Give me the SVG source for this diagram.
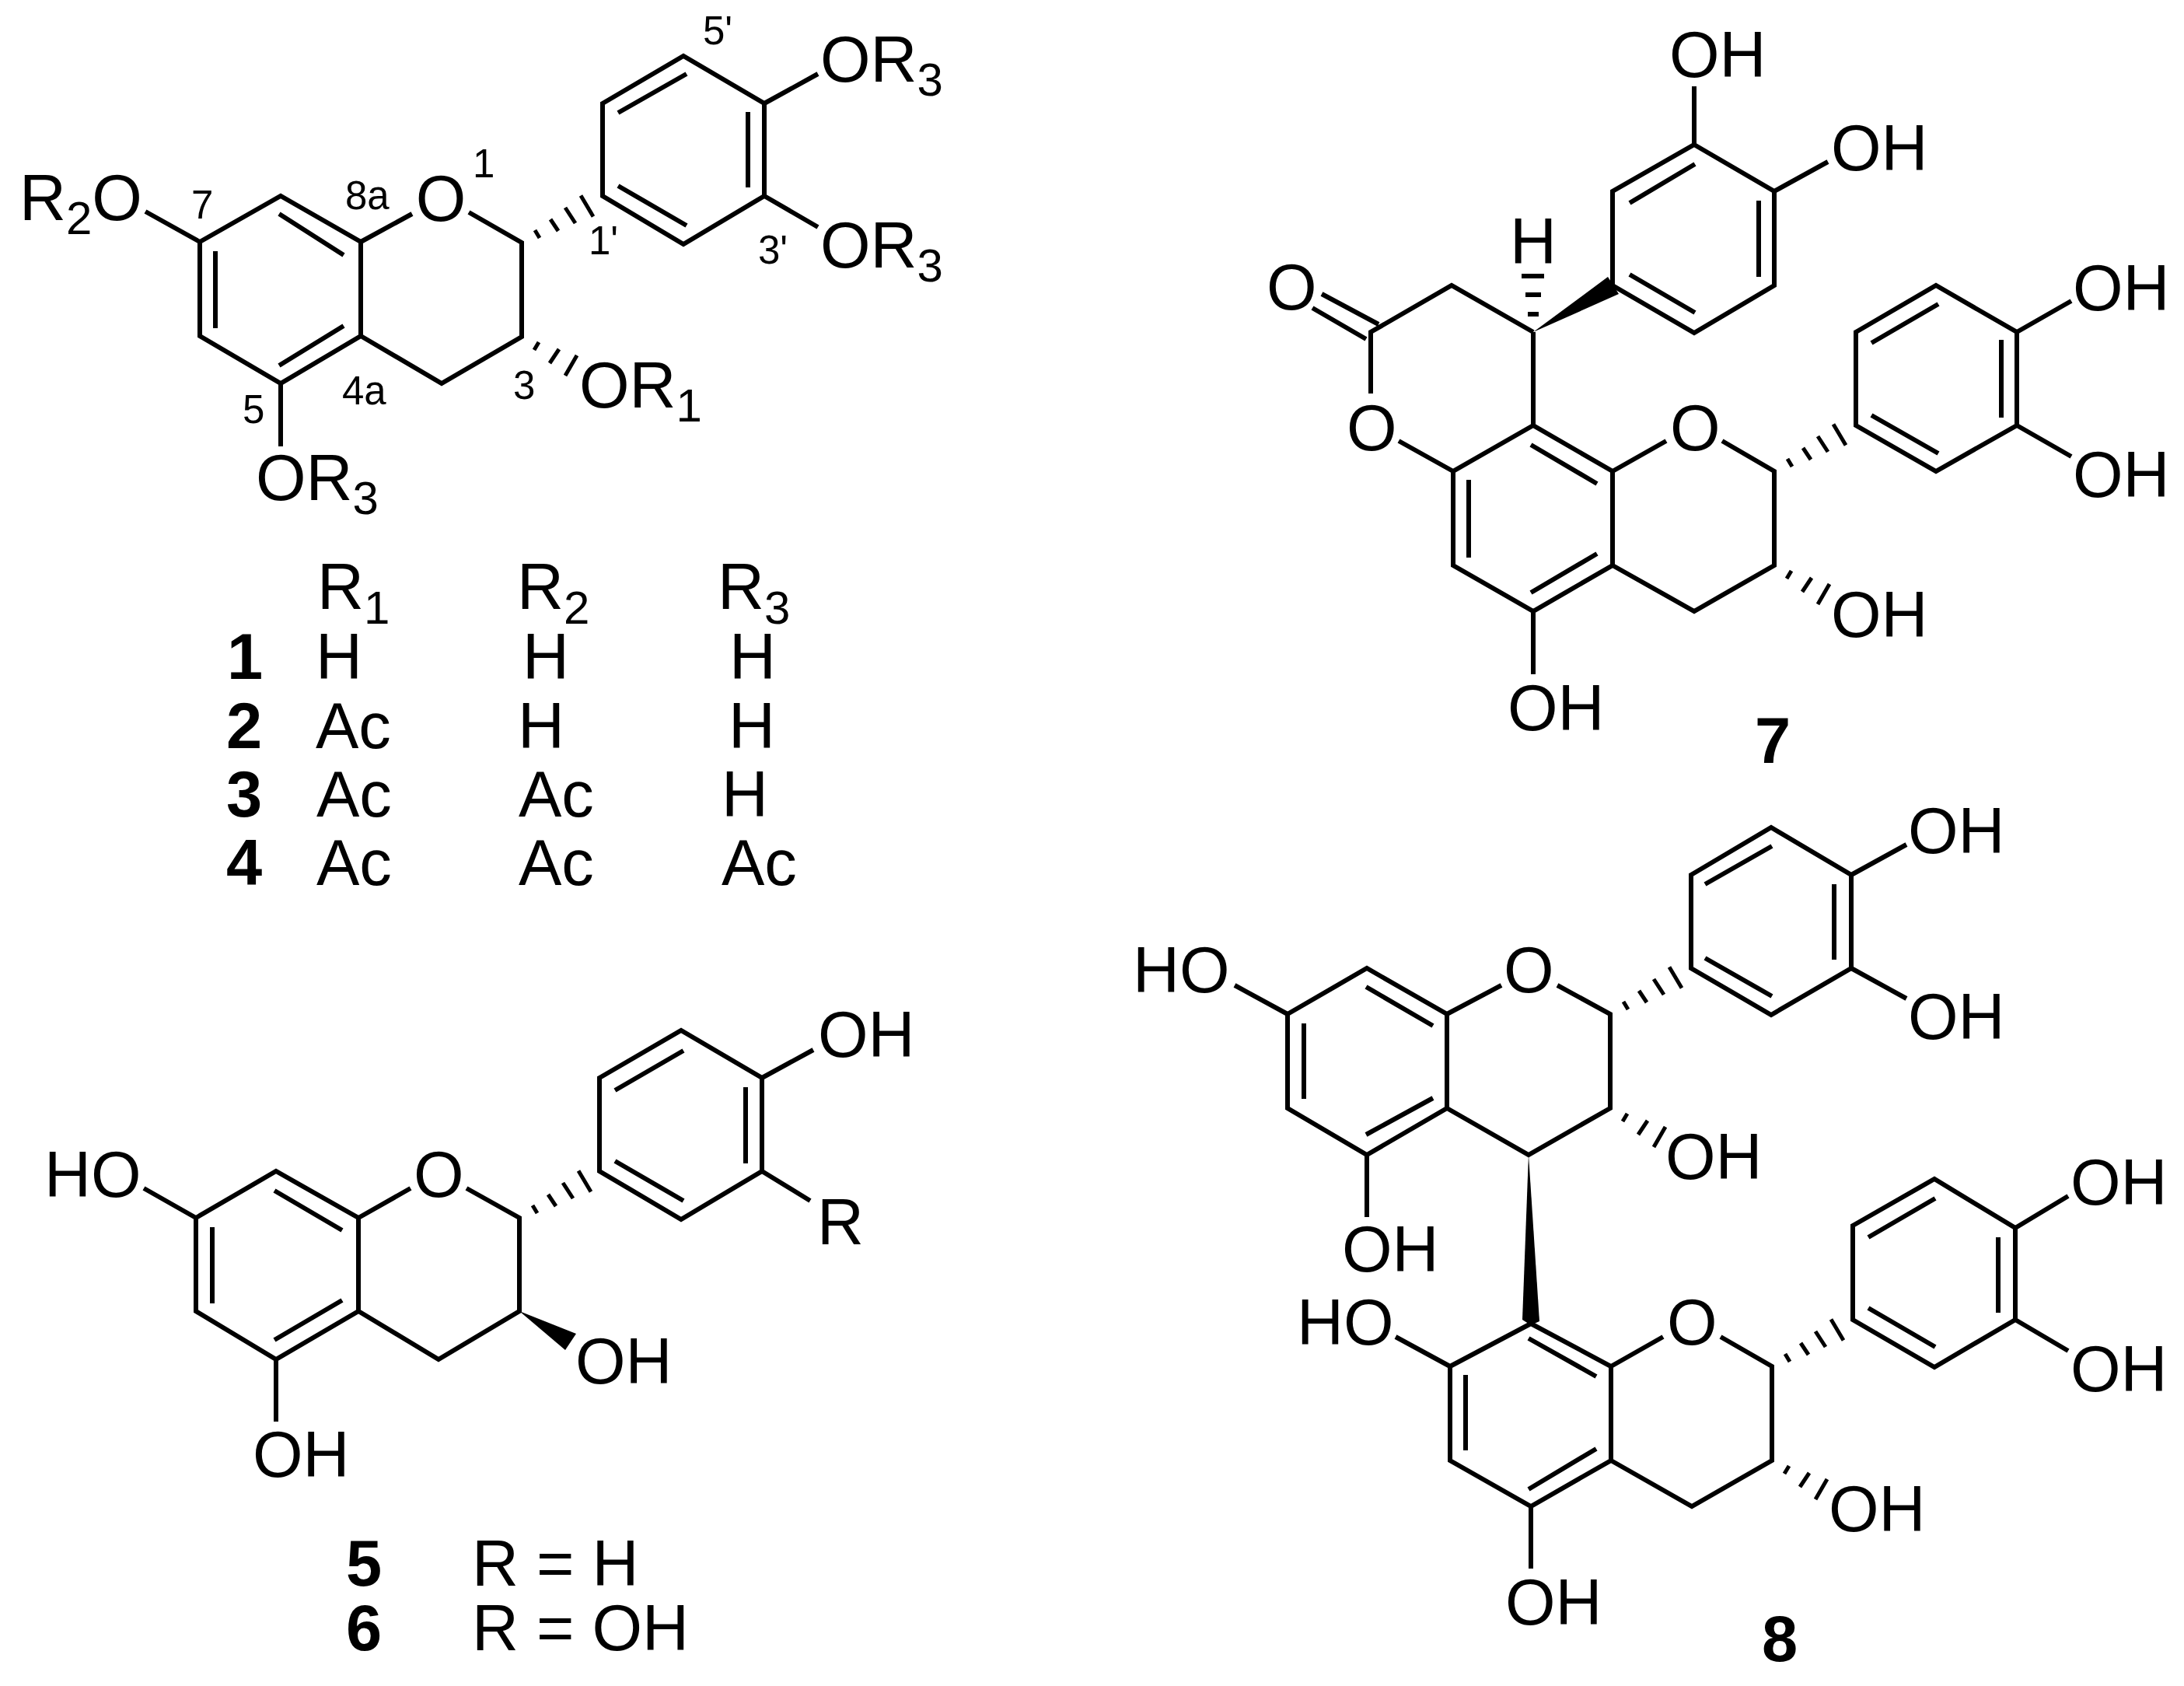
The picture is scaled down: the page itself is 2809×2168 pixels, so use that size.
<svg xmlns="http://www.w3.org/2000/svg" width="2809" height="2168" viewBox="0 0 2809 2168">
<style>
text{font-family:"Liberation Sans",Arial,sans-serif;fill:#000}
.t{font-size:83px}
.s{font-size:60px}
.l{font-size:51px}
.b{font-size:83px;font-weight:bold}
.k{fill:none;stroke:#000;stroke-width:6;stroke-linejoin:miter;stroke-miterlimit:4}
.h{fill:none;stroke:#000;stroke-width:5}
</style>
<defs>
<path id="hashA" class="h" d="M17 -16L23 -6M37 -30L47 -15M56 -45L69 -25M76 -60.500L92 -33.500"/>
<path id="hashB" class="h" d="M16 17L22 7M36 34L48 16M56 50L71 24"/>
</defs>
<rect width="2809" height="2168" fill="#fff"/>

<g id="compound-1-4">
<path class="k" d="M257 311L361 252L464 311V432L361 493L257 432ZM464 311L530 275M603 273L671 312V433L568 493L464 432M775 133L879 72L983 133V252L879 314L775 252ZM257 311L187 272M361 493V574M983 133L1052 95M983 252L1052 292M359 275L442 328M277 323V422M359 470L442 419M795 145L883 95M962 144V241M795 239L883 290"/>
<use href="#hashA" x="671" y="312"/>
<use href="#hashB" x="671" y="433"/>
<text class="t" x="25" y="283">R<tspan class="s" dy="18">2</tspan><tspan dy="-18">O</tspan></text>
<text class="t" x="567" y="284" text-anchor="middle">O</text>
<text class="t" x="1055" y="105">OR<tspan class="s" dy="18">3</tspan></text>
<text class="t" x="1055" y="344">OR<tspan class="s" dy="18">3</tspan></text>
<text class="t" x="745" y="524">OR<tspan class="s" dy="18">1</tspan></text>
<text class="t" x="329" y="643">OR<tspan class="s" dy="18">3</tspan></text>
<text class="l" x="904" y="57">5'</text>
<text class="l" x="608" y="228">1</text>
<text class="l" x="444" y="269">8a</text>
<text class="l" x="246" y="281">7</text>
<text class="l" x="757" y="327">1'</text>
<text class="l" x="975" y="339">3'</text>
<text class="l" x="312" y="544">5</text>
<text class="l" x="440" y="520">4a</text>
<text class="l" x="660" y="513">3</text>
</g>

<g id="table-1-4">
<text class="t" x="408" y="783">R<tspan class="s" dy="19">1</tspan></text>
<text class="t" x="665" y="783">R<tspan class="s" dy="19">2</tspan></text>
<text class="t" x="923" y="783">R<tspan class="s" dy="19">3</tspan></text>
<text class="b" x="292" y="873">1</text>
<text class="t" x="406" y="873">H</text>
<text class="t" x="672" y="873">H</text>
<text class="t" x="938" y="873">H</text>
<text class="b" x="291" y="962">2</text>
<text class="t" x="406" y="962">Ac</text>
<text class="t" x="666" y="962">H</text>
<text class="t" x="937" y="962">H</text>
<text class="b" x="291" y="1050">3</text>
<text class="t" x="407" y="1050">Ac</text>
<text class="t" x="667" y="1050">Ac</text>
<text class="t" x="928" y="1050">H</text>
<text class="b" x="291" y="1138">4</text>
<text class="t" x="407" y="1138">Ac</text>
<text class="t" x="667" y="1138">Ac</text>
<text class="t" x="928" y="1138">Ac</text>
</g>

<g id="compound-5-6">
<path class="k" d="M252 1566L355 1506L461 1566V1686L355 1748L252 1686ZM461 1566L528 1528M600 1528L668 1566V1686L564 1748L461 1686M771 1386L876 1325L980 1386V1506L876 1568L771 1506ZM252 1566L185 1528M980 1386L1046 1350M980 1506L1042 1544M355 1748V1828M353 1531L440 1582M273 1578V1676M353 1723L440 1672M791 1402L879 1351M959 1398V1496M791 1493L879 1544"/>
<use href="#hashA" x="668" y="1566"/>
<path d="M668 1686L741 1715L727 1736Z"/>
<text class="t" x="57" y="1539">HO</text>
<text class="t" x="532" y="1539">O</text>
<text class="t" x="1052" y="1359">OH</text>
<text class="t" x="1051" y="1600">R</text>
<text class="t" x="740" y="1779">OH</text>
<text class="t" x="325" y="1899">OH</text>
<text class="b" x="445" y="2039">5</text>
<text class="t" x="607" y="2039">R = H</text>
<text class="b" x="445" y="2122">6</text>
<text class="t" x="607" y="2122">R = OH</text>
</g>

<g id="compound-7">
<path class="k" d="M2179 186L2282 246V367L2179 428L2074 367V246ZM2179 186V111M2282 246L2351 208M2096 261L2180 211M2262 258V356M2096 353L2180 402M1972 427L1867 367L1763 427V506M1700 378L1773 417M1688 396L1757 436M1972 427V547L2074 606V727L1972 786L1869 727V606L1972 547M1869 606L1799 567M2074 606L2143 567M2215 567L2282 606V727L2179 786L2074 727M1969 572L2054 622M1889 617V717M1969 762L2054 712M1972 786V867M2387 427L2490 367L2594 427V547L2490 606L2387 547ZM2407 441L2493 391M2574 437V537M2407 534L2493 583M2594 427L2664 387M2594 547L2664 587M1957 355H1986M1962 379H1982M1965 404H1979"/>
<use href="#hashA" x="2282" y="606"/>
<use href="#hashB" x="2282" y="727"/>
<path d="M1972 427L2068 356L2082 378Z"/>
<text class="t" x="2147" y="99">OH</text>
<text class="t" x="2355" y="219">OH</text>
<text class="t" x="1942" y="339">H</text>
<text class="t" x="1629" y="398">O</text>
<text class="t" x="1732" y="579">O</text>
<text class="t" x="2148" y="579">O</text>
<text class="t" x="2666" y="399">OH</text>
<text class="t" x="2666" y="639">OH</text>
<text class="t" x="2355" y="819">OH</text>
<text class="t" x="1939" y="939">OH</text>
<text class="b" x="2257" y="981">7</text>
</g>

<g id="compound-8">
<path class="k" d="M1656 1304L1758 1245L1861 1304V1425L1758 1485L1656 1425ZM1861 1304L1931 1267M2003 1267L2071 1304V1425L1966 1485L1861 1425M2175 1125L2278 1064L2381 1125V1245L2278 1305L2175 1245ZM1656 1304L1588 1267M2381 1125L2452 1086M2381 1245L2452 1284M1758 1485V1565M1757 1269L1843 1319M1677 1316V1413M1757 1459L1843 1412M2193 1137L2279 1088M2359 1137V1234M2193 1232L2279 1281M1865 1757L1969 1702L2072 1757V1878L1969 1937L1865 1878ZM2072 1757L2139 1719M2213 1719L2279 1757V1878L2176 1937L2072 1878M1865 1757L1795 1719M1969 1937V2017M1966 1721L2053 1770M1885 1768V1865M1966 1915L2053 1863M2383 1576L2488 1516L2592 1579V1697L2488 1758L2383 1697ZM2592 1579L2660 1538M2592 1697L2660 1737M2403 1591L2489 1541M2570 1591V1688M2403 1682L2489 1732"/>
<use href="#hashA" x="2071" y="1304"/>
<use href="#hashB" x="2071" y="1425"/>
<use href="#hashA" x="2279" y="1757"/>
<use href="#hashB" x="2279" y="1878"/>
<path d="M1966 1485L1958 1697L1969 1704L1980 1699Z"/>
<text class="t" x="1457" y="1276">HO</text>
<text class="t" x="1934" y="1276">O</text>
<text class="t" x="2454" y="1097">OH</text>
<text class="t" x="2454" y="1336">OH</text>
<text class="t" x="2142" y="1516">OH</text>
<text class="t" x="1726" y="1635">OH</text>
<text class="t" x="1668" y="1729">HO</text>
<text class="t" x="2144" y="1729">O</text>
<text class="t" x="2663" y="1549">OH</text>
<text class="t" x="2663" y="1789">OH</text>
<text class="t" x="2352" y="1969">OH</text>
<text class="t" x="1936" y="2089">OH</text>
<text class="b" x="2266" y="2136">8</text>
</g>
</svg>
